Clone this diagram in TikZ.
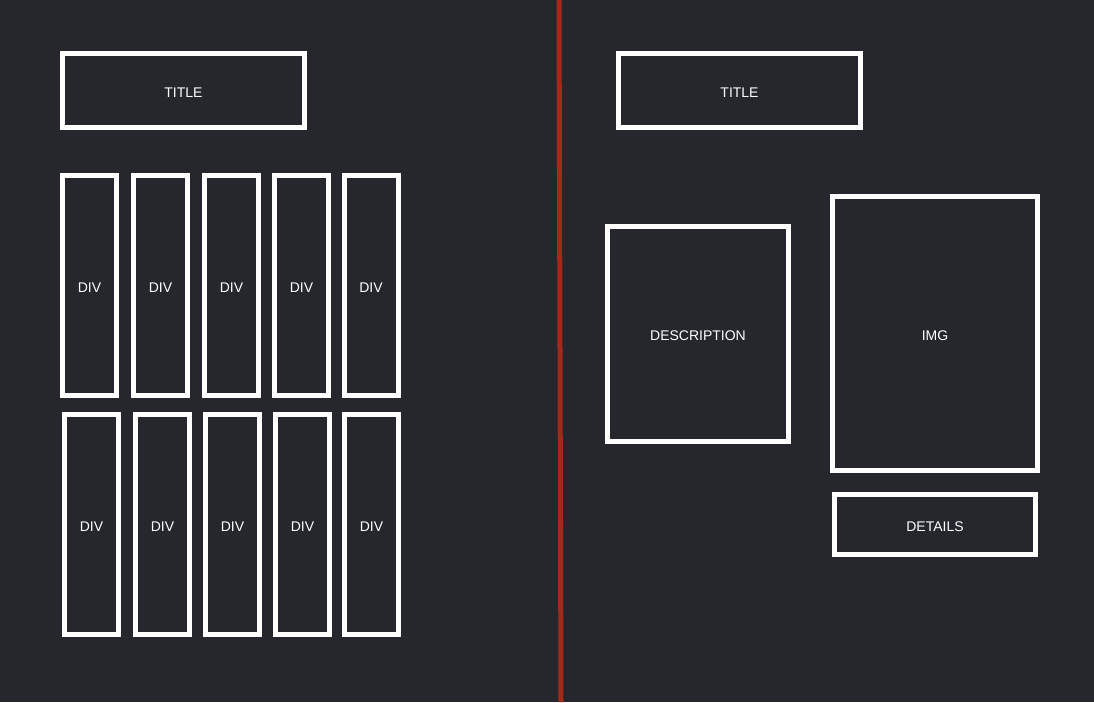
\documentclass[tikz,border=0pt]{standalone}
\usepackage{fontspec}
\setmainfont{Liberation Sans}
\definecolor{bgdark}{RGB}{37,39,45}
\definecolor{splitred}{RGB}{163,41,26}
\tikzset{
  box/.style={draw=white, line width=5pt, inner sep=0pt, text=white,
    text height=13pt, text depth=0pt, font=\fontsize{14}{16}\selectfont},
  divbox/.style={box, minimum width=54pt, minimum height=220pt},
  splitline/.style={draw=splitred, line width=5pt}
}
\begin{document}
\begin{tikzpicture}[x=1pt,y=-1pt]
      \fill[bgdark] (0,0) rectangle (1094,702);
      \useasboundingbox (0,0) rectangle (1094,702);
      \draw
        (183.5,90.5) node[box, minimum width=242pt, minimum height=74pt] (titleL){TITLE}
        (89.5,285.5) node[divbox] (d1){DIV}
        (160.5,285.5) node[divbox] (d2){DIV}
        (231.5,285.5) node[divbox] (d3){DIV}
        (301.5,285.5) node[divbox] (d4){DIV}
        (371.0,285.5) node[divbox] (d5){DIV}
        (91.5,524.5) node[divbox] (d6){DIV}
        (162.5,524.5) node[divbox] (d7){DIV}
        (232.5,524.5) node[divbox] (d8){DIV}
        (302.5,524.5) node[divbox] (d9){DIV}
        (371.5,524.5) node[divbox] (d10){DIV};
      \draw
        (739.5,90.5) node[box, minimum width=242pt, minimum height=74pt] (titleR){TITLE}
        (698.0,334.0) node[box, minimum width=181pt, minimum height=215pt] (desc){DESCRIPTION}
        (935.0,333.5) node[box, minimum width=205pt, minimum height=274pt] (img){IMG}
        (935.0,524.5) node[box, minimum width=201pt, minimum height=60pt] (details){DETAILS};
      \coordinate (splitT) at (559,0);
      \coordinate (splitB) at (561,702);
      \begin{scope}[-]
        \draw[splitline] (splitT) to (splitB);
      \end{scope}
    \end{tikzpicture}
\end{document}
